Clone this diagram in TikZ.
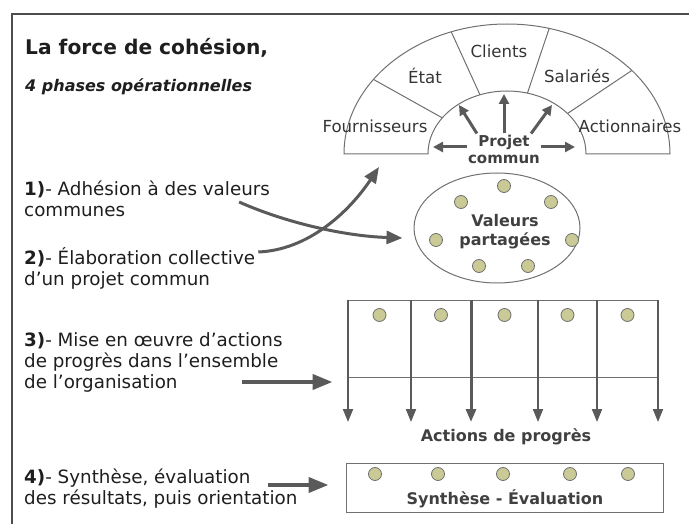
\documentclass[tikz,border=0pt]{standalone}
\usepackage{fontspec}
\setmainfont{DejaVu Sans}
\usetikzlibrary{arrows.meta,shapes.geometric,calc}

\definecolor{framecol}{HTML}{4D4D4D}
\definecolor{linecol}{HTML}{707070}
\definecolor{arrowcol}{HTML}{5A5A5A}
\definecolor{dotcol}{HTML}{CACA96}
\definecolor{txtcol}{HTML}{1E1E1E}

\tikzset{
  phase/.style={anchor=west, inner sep=0pt, align=left, text=txtcol,
    font=\fontsize{18.3}{21}\selectfont},
  sector/.style={text=txtcol!90, inner sep=1pt, font=\fontsize{16.6}{19}\selectfont},
  boldlabel/.style={text=txtcol!85, align=center, inner sep=1pt,
    font=\bfseries\fontsize{16}{19}\selectfont},
  pastille/.style={circle, draw=linecol, fill=dotcol, line width=0.8pt,
    minimum size=13pt, inner sep=0pt},
  bigarrow/.style={arrowcol, line width=4pt, -{Triangle[length=20pt,width=15pt]}},
  curvearrow/.style={arrowcol, line width=3pt, -{Triangle[length=16pt,width=13pt]}},
  smallarrow/.style={arrowcol, line width=3pt, -{Triangle[length=10pt,width=10pt]}},
  downarrow/.style={arrowcol, line width=2pt, -{Triangle[length=13pt,width=10pt]}},
}

\begin{document}
\begin{tikzpicture}[x=1pt, y=-1pt]
    \useasboundingbox (0,0) rectangle (689,524);

    % Cadre (haut et gauche)
    \draw[framecol, line width=1.5pt] (12,524) -- (12,14) -- (689,14);

    % Titre et sous-titre
    \node[phase, font=\bfseries\fontsize{20.2}{24}\selectfont] (titre) at (25,48) {La force de cohésion,};
    \node[phase, font=\bfseries\itshape\fontsize{16}{19}\selectfont] (soustitre) at (25,87) {4 phases opérationnelles};

    % Les quatre phases
    \node[phase] (t1) at (24,199) {\textbf{1)}- Adhésion à des valeurs\\communes};
    \node[phase] (t2) at (24,268) {\textbf{2)}- Élaboration collective\\d'un projet commun};
    \node[phase] (t3) at (24,362) {\textbf{3)}- Mise en œuvre d’actions\\de progrès dans l’ensemble\\de l’organisation};
    \node[phase] (t4) at (24,489) {\textbf{4)}- Synthèse, évaluation\\des résultats, puis orientation};

    % Demi-cercle des parties prenantes
    \draw[linecol, line width=1pt] (344,154) arc[start angle=180, end angle=360, x radius=163, y radius=130]
        -- (586,154) arc[start angle=360, end angle=180, x radius=79, y radius=63] -- cycle;
    \foreach \a in {145,110,75,40}
        \draw[linecol, line width=1pt] ({507+79*cos(\a)},{154-63*sin(\a)}) -- ({507+163*cos(\a)},{154-130*sin(\a)});

    \node[sector] (fourn) at (375,126) {Fournisseurs};
    \node[sector] (etat) at (425,76) {État};
    \node[sector] (clients) at (499,51) {Clients};
    \node[sector] (salaries) at (577,76) {Salariés};
    \node[sector] (action) at (630,126) {Actionnaires};

    % Projet commun et ses fleches
    \node[boldlabel, font=\bfseries\fontsize{15}{17}\selectfont] (projet) at (504,149) {Projet\\commun};
    \coordinate (pg) at (433,147);
    \coordinate (pd) at (575,147);
    \coordinate (ph) at (504,94);
    \coordinate (phg) at (459,105);
    \coordinate (phd) at (552,105);
    \draw[smallarrow] ([yshift=2pt]projet.west) -- (pg);
    \draw[smallarrow] ([yshift=2pt]projet.east) -- (pd);
    \draw[smallarrow] (projet.north) -- (ph);
    \draw[smallarrow] ([xshift=10pt]projet.north west) -- (phg);
    \draw[smallarrow] ([xshift=-10pt]projet.north east) -- (phd);

    % Valeurs partagees
    \node[ellipse, draw=linecol, line width=1pt, minimum width=166pt, minimum height=110pt] (valeurs) at (497,228) {};
    \node[boldlabel] (valtxt) at (505,232) {Valeurs\\partagées};
    \foreach \x/\y [count=\i] in {504/186,461/202,551/202,436/240,572/240,479/266,528/266}
        \node[pastille] (v\i) at (\x,\y) {};

    % Fleches courbes des phases 1 et 2
    \coordinate (pointe2) at (379,167);
    \draw[curvearrow] ([xshift=-31pt,yshift=-3pt]t1.east) .. controls +(45,20) and +(-60,-2) .. ([xshift=-11pt,yshift=-10pt]valeurs.west);
    \draw[curvearrow] ([xshift=3pt,yshift=16pt]t2.east) .. controls +(50,-2) and +(-30,45) .. (pointe2);

    % Actions de progres
    \node[draw=linecol, line width=1pt, minimum width=310pt, minimum height=77pt, inner sep=0pt] (colonnes) at (503,338.5) {};
    \foreach \x [count=\i] in {348,411,471,538,597,658}
        \coordinate (bas\i) at (\x,422);
    \foreach \i in {1,2,4,5,6}
        \draw[downarrow] (colonnes.north -| bas\i) -- (bas\i);
    \draw[downarrow, line width=3pt] (colonnes.north -| bas3) -- (bas3);
    \foreach \x [count=\i] in {379.5,441,504.5,567.5,627.5}
        \node[pastille] (a\i) at (\x,315) {};
    \node[boldlabel] (actions) at (506,437) {Actions de progrès};

    % Synthese - Evaluation
    \node[draw=linecol, line width=1pt, minimum width=317pt, minimum height=49pt, inner sep=0pt] (synthese) at (504.5,487.5) {};
    \foreach \x [count=\i] in {375,438,503,570,628}
        \node[pastille] (s\i) at (\x,474) {};
    \node[boldlabel] (synthtxt) at (505,499) {Synthèse - Évaluation};

    % Fleches des phases 3 et 4
    \coordinate (depart3) at (242,382);
    \coordinate (depart4) at (268,485);
    \draw[bigarrow] (depart3) -- ($(colonnes.west |- depart3)+(-15,0)$);
    \draw[bigarrow] (depart4) -- ($(synthese.west |- depart4)+(-17,0)$);

\end{tikzpicture}
\end{document}
